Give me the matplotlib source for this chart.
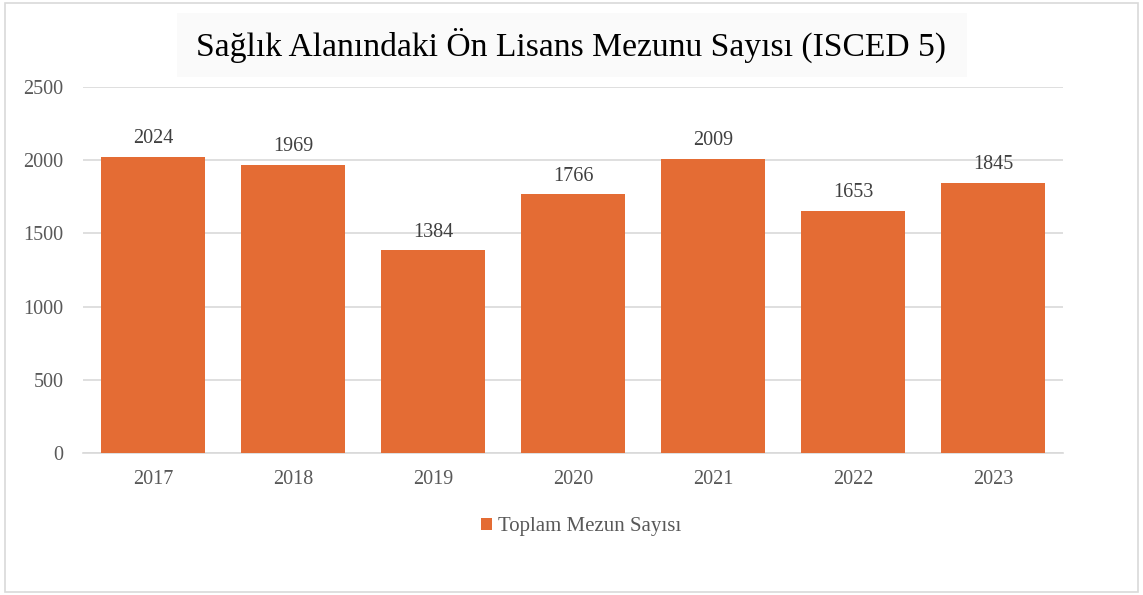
import matplotlib
matplotlib.use('Agg')
import matplotlib.pyplot as plt
from matplotlib.patches import Rectangle

# data
years = ['2017', '2018', '2019', '2020', '2021', '2022', '2023']
graduates = [2024, 1969, 1384, 1766, 2009, 1653, 1845]
y_ticks = [0, 500, 1000, 1500, 2000, 2500]

plt.rcParams['font.family'] = ['Liberation Serif', 'DejaVu Serif']

W, H = 1143, 595
fig = plt.figure(figsize=(W / 100, H / 100), dpi=100)
fig.patch.set_facecolor('white')

# outer chart border
fig.add_artist(Rectangle((5 / W, 3 / H), (1133 / W), (589 / H), transform=fig.transFigure,
                         fill=False, edgecolor='#d9d9d9', linewidth=1.2))

# title box
fig.add_artist(Rectangle((177 / W, 1 - 77 / H), (790 / W), (64 / H), transform=fig.transFigure,
                         facecolor='#fafafa', edgecolor='none'))
fig.text(571 / W, 1 - 45 / H, 'Sağlık Alanındaki Ön Lisans Mezunu Sayısı (ISCED 5)',
         ha='center', va='center', fontsize=24.2, color='black')

ax = fig.add_axes([83 / W, 1 - 453 / H, (1063 - 83) / W, (453 - 87) / H])
x = range(len(years))
bars = ax.bar(x, graduates, width=0.74, color='#e46c34', zorder=3,
              label='Toplam Mezun Sayısı')

ax.set_ylim(0, 2500)
ax.set_xlim(-0.5, len(years) - 0.5)
ax.set_yticks(y_ticks)
ax.set_xticks(list(x))
ax.set_xticklabels(years)
ax.grid(axis='y', color='#d9d9d9', linewidth=1.2, zorder=0)
for s in ['top', 'right', 'left']:
    ax.spines[s].set_visible(False)
ax.spines['bottom'].set_color('#d9d9d9')
ax.spines['bottom'].set_linewidth(1.2)
ax.tick_params(axis='both', length=0, labelsize=14.5, labelcolor='#595959')
ax.tick_params(axis='y', pad=14)
ax.tick_params(axis='x', pad=12)

for b, v in zip(bars, graduates):
    ax.text(b.get_x() + b.get_width() / 2, v + 60, str(v), ha='center', va='bottom',
            fontsize=14.5, color='#404040')

fig.legend(handles=[bars], labels=['Toplam Mezun Sayısı'], loc='center',
           bbox_to_anchor=(581 / W, 1 - 527 / H), frameon=False, fontsize=15,
           handlelength=0.55, handleheight=0.55, handletextpad=0.25,
           labelcolor='#595959')

fig.savefig('out.png', dpi=100)
